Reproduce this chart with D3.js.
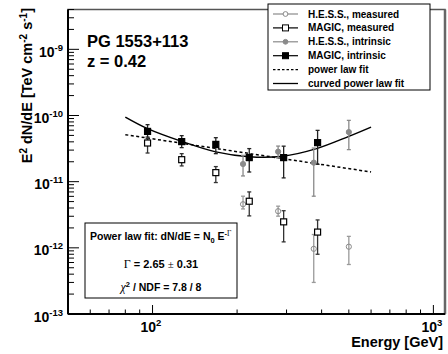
<!DOCTYPE html>
<html>
<head>
<meta charset="utf-8">
<script src="https://cdn.jsdelivr.net/npm/d3@7"></script>
<style>
body { margin: 0; background: #fff; }
text { font-family: "Liberation Sans", Arial, sans-serif; font-weight: bold; fill: #000; }
</style>
</head>
<body>
<svg id="chart"></svg>
<script>
// MAGIC points (energy in GeV, E^2 dN/dE in TeV cm^-2 s^-1)
var magicEnergy = [96, 127, 168, 221, 293, 387];
var magicIntrinsic = [5.75e-11, 4.03e-11, 3.66e-11, 2.31e-11, 2.31e-11, 3.89e-11];
var magicIntrinsicHi = [7.27e-11, 4.96e-11, 4.62e-11, 3.16e-11, 3.44e-11, 5.96e-11];
var magicIntrinsicLo = [4.72e-11, 3.27e-11, 2.65e-11, 1.40e-11, 1.14e-11, 1.83e-11];
var magicMeasured = [3.84e-11, 2.15e-11, 1.37e-11, 5.06e-12, 2.47e-12, 1.73e-12];
var magicMeasuredHi = [4.47e-11, 2.65e-11, 1.69e-11, 7.0e-12, 3.64e-12, 2.64e-12];
var magicMeasuredLo = [2.71e-11, 1.73e-11, 9.7e-12, 3.04e-12, 1.23e-12, 8.0e-13];

// H.E.S.S. points
var hessEnergy = [210, 280, 375, 500];
var hessIntrinsic = [1.85e-11, 2.84e-11, 1.94e-11, 5.62e-11];
var hessIntrinsicHi = [2.50e-11, 3.45e-11, 3.22e-11, 8.44e-11];
var hessIntrinsicLo = [1.22e-11, 2.28e-11, 6.03e-12, 3.05e-11];
var hessMeasured = [4.56e-12, 3.58e-12, 9.66e-13, 1.04e-12];
var hessMeasuredHi = [6.03e-12, 4.26e-12, 1.59e-12, 1.49e-12];
var hessMeasuredLo = [3.87e-12, 3.01e-12, 3.0e-13, 5.6e-13];

// fit curves
var curvedEnergy = [80, 96, 127, 168, 221, 290, 381, 500, 600];
var curvedFlux = [9.46e-11, 6.33e-11, 4.06e-11, 2.82e-11, 2.38e-11, 2.42e-11, 3.13e-11, 4.84e-11, 6.68e-11];
var powerEnergy = [80, 600];
var powerFlux = [5.13e-11, 1.40e-11];

var xTickValues = [100, 1000];
var xTickLabels = ["2", "3"];
var yTickValues = [1e-13, 1e-12, 1e-11, 1e-10, 1e-9];
var yTickLabels = ["-13", "-12", "-11", "-10", "-9"];

var legendLabels = ["H.E.S.S., measured", "MAGIC, measured", "H.E.S.S., intrinsic", "MAGIC, intrinsic", "power law fit", "curved power law fit"];

var hessColor = "#8a8a8a";
var magicColor = "#000";

var svg = d3.select("#chart");
svg.attr("width", 448)
    .attr("height", 354);

var x = d3.scaleLog().domain([50, 1100]).range([68, 445]);
var y = d3.scaleLog().domain([1e-13, 4e-9]).range([314, 9.5]);

function isMajor(v){
    var l = Math.log10(v);
    return Math.abs(l - Math.round(l)) < 1e-6;
}

// frame
svg.append("rect")
    .attr("x", x.range()[0])
    .attr("y", y.range()[1])
    .attr("width", x.range()[1] - x.range()[0])
    .attr("height", y.range()[0] - y.range()[1])
    .attr("fill", "none")
    .attr("stroke", "#555")
    .attr("stroke-width", 1.5);
svg.append("line")
    .attr("x1", x.range()[1]).attr("x2", x.range()[1])
    .attr("y1", y.range()[1]).attr("y2", y.range()[0])
    .attr("stroke", "#666").attr("stroke-width", 2.5);

// ticks (pointing inward, ROOT style)
var xMinor = x.ticks().filter(function(d){ return !isMajor(d); });
var yMinor = y.ticks().filter(function(d){ return !isMajor(d); });

svg.selectAll(".xtick")
    .data(xMinor.concat(xTickValues))
    .enter().append("line")
    .attr("class", "xtick")
    .attr("x1", function(d){ return x(d); })
    .attr("x2", function(d){ return x(d); })
    .attr("y1", y.range()[0])
    .attr("y2", function(d){ return y.range()[0] - (isMajor(d) ? 9 : 4.5); })
    .attr("stroke", "#000")
    .attr("stroke-width", 1);

svg.selectAll(".ytick")
    .data(yMinor.concat(yTickValues))
    .enter().append("line")
    .attr("class", "ytick")
    .attr("y1", function(d){ return y(d); })
    .attr("y2", function(d){ return y(d); })
    .attr("x1", x.range()[0])
    .attr("x2", function(d){ return x.range()[0] + (isMajor(d) ? 11 : 6); })
    .attr("stroke", "#000")
    .attr("stroke-width", 1);

// axis lines
svg.append("line")
    .attr("x1", x.range()[0]).attr("x2", x.range()[1])
    .attr("y1", y.range()[0]).attr("y2", y.range()[0])
    .attr("stroke", "#000").attr("stroke-width", 2);
svg.append("line")
    .attr("x1", x.range()[0]).attr("x2", x.range()[0])
    .attr("y1", y.range()[0]).attr("y2", y.range()[1])
    .attr("stroke", "#000").attr("stroke-width", 2);

// tick labels
xTickValues.forEach(function(v, i){
    var t = svg.append("text")
        .attr("x", x(v) - 12)
        .attr("y", 332)
        .attr("font-size", 14);
    t.append("tspan").text("10");
    t.append("tspan").attr("dy", -6).attr("font-size", 9.5).text(xTickLabels[i]);
});

yTickValues.forEach(function(v, i){
    var t = svg.append("text")
        .attr("x", 63)
        .attr("y", y(v) + 7.5)
        .attr("text-anchor", "end")
        .attr("font-size", 14);
    t.append("tspan").text("10");
    t.append("tspan").attr("dy", -6).attr("font-size", 9.5).text(yTickLabels[i]);
});

// axis titles
svg.append("text")
    .attr("x", 443)
    .attr("y", 347)
    .attr("text-anchor", "end")
    .attr("font-size", 14.5)
    .text("Energy [GeV]");

var yt = svg.append("text")
    .attr("transform", "translate(32,8) rotate(-90)")
    .attr("text-anchor", "end")
    .attr("font-size", 14.5);
yt.append("tspan").text("E");
yt.append("tspan").attr("dy", -5).attr("font-size", 10).text("2");
yt.append("tspan").attr("dy", 5).text(" dN/dE [TeV cm");
yt.append("tspan").attr("dy", -5).attr("font-size", 10).text("-2");
yt.append("tspan").attr("dy", 5).text(" s");
yt.append("tspan").attr("dy", -5).attr("font-size", 10).text("-1");
yt.append("tspan").attr("dy", 5).text("]");

// source name
svg.append("text").attr("x", 87).attr("y", 47).attr("font-size", 16.5).text("PG 1553+113");
svg.append("text").attr("x", 87).attr("y", 67).attr("font-size", 16.5).text("z = 0.42");

// fit lines
var line = d3.line()
    .x(function(d){ return x(d[0]); })
    .y(function(d){ return y(d[1]); });

svg.append("path")
    .datum(d3.zip(powerEnergy, powerFlux))
    .attr("d", line)
    .attr("fill", "none")
    .attr("stroke", "#000")
    .attr("stroke-width", 1.5)
    .attr("stroke-dasharray", "3,2.5");

svg.append("path")
    .datum(d3.zip(curvedEnergy, curvedFlux))
    .attr("d", line.curve(d3.curveCatmullRom))
    .attr("fill", "none")
    .attr("stroke", "#000")
    .attr("stroke-width", 1.5);

// error bars
function errorBars(energy, lo, hi, color){
    var g = svg.append("g").attr("stroke", color).attr("stroke-width", 1.3);
    energy.forEach(function(e, i){
        var cx = x(e);
        g.append("line").attr("x1", cx).attr("x2", cx).attr("y1", y(hi[i])).attr("y2", y(lo[i]));
        g.append("line").attr("x1", cx - 2).attr("x2", cx + 2).attr("y1", y(hi[i])).attr("y2", y(hi[i]));
        g.append("line").attr("x1", cx - 2).attr("x2", cx + 2).attr("y1", y(lo[i])).attr("y2", y(lo[i]));
    });
}

errorBars(hessEnergy, hessMeasuredLo, hessMeasuredHi, "#9a9a9a");
errorBars(hessEnergy, hessIntrinsicLo, hessIntrinsicHi, "#8a8a8a");
errorBars(magicEnergy, magicMeasuredLo, magicMeasuredHi, "#333");
errorBars(magicEnergy, magicIntrinsicLo, magicIntrinsicHi, "#222");

// markers
function circles(energy, flux, filled){
    svg.append("g").selectAll("circle")
        .data(d3.zip(energy, flux))
        .enter().append("circle")
        .attr("cx", function(d){ return x(d[0]); })
        .attr("cy", function(d){ return y(d[1]); })
        .attr("r", 2.6)
        .attr("fill", filled ? hessColor : "none")
        .attr("stroke", hessColor)
        .attr("stroke-width", 1);
}

function squares(energy, flux, filled){
    svg.append("g").selectAll("rect")
        .data(d3.zip(energy, flux))
        .enter().append("rect")
        .attr("x", function(d){ return x(d[0]) - 3; })
        .attr("y", function(d){ return y(d[1]) - 3; })
        .attr("width", 6)
        .attr("height", 6)
        .attr("fill", filled ? magicColor : "#fff")
        .attr("stroke", magicColor)
        .attr("stroke-width", 1.2);
}

circles(hessEnergy, hessMeasured, false);
circles(hessEnergy, hessIntrinsic, true);
squares(magicEnergy, magicMeasured, false);
squares(magicEnergy, magicIntrinsic, true);

// legend
var legend = svg.append("g");
legend.append("rect")
    .attr("x", 268).attr("y", 4)
    .attr("width", 162).attr("height", 86)
    .attr("fill", "#fff")
    .attr("stroke", "#000")
    .attr("stroke-width", 1);

legendLabels.forEach(function(label, i){
    var ly = 14 + i * 13.9;
    var col = (i == 0 || i == 2) ? hessColor : "#000";
    legend.append("line")
        .attr("x1", 273).attr("x2", 298)
        .attr("y1", ly).attr("y2", ly)
        .attr("stroke", col)
        .attr("stroke-width", i >= 4 ? 1.3 : 1.2)
        .attr("stroke-dasharray", i == 4 ? "2.5,2" : null);
    if (i == 0 || i == 2){
        legend.append("circle").attr("cx", 285.5).attr("cy", ly).attr("r", 2.4)
            .attr("fill", i == 2 ? hessColor : "#fff").attr("stroke", hessColor);
    }
    if (i == 1 || i == 3){
        legend.append("rect").attr("x", 282.5).attr("y", ly - 3).attr("width", 6).attr("height", 6)
            .attr("fill", i == 3 ? "#000" : "#fff").attr("stroke", "#000");
    }
    legend.append("text")
        .attr("x", 308)
        .attr("y", ly + 3.5)
        .attr("font-size", 10)
        .attr("font-weight", "normal")
        .text(label);
});

// fit result box
var box = svg.append("g");
box.append("rect")
    .attr("x", 85).attr("y", 223)
    .attr("width", 152).attr("height", 75)
    .attr("fill", "#fff")
    .attr("stroke", "#000")
    .attr("stroke-width", 1);

var t1 = box.append("text").attr("x", 90).attr("y", 240).attr("font-size", 10.5);
t1.append("tspan").text("Power law fit: dN/dE = N");
t1.append("tspan").attr("dy", 2.5).attr("font-size", 7.5).text("0");
t1.append("tspan").attr("dy", -2.5).text(" E");
t1.append("tspan").attr("dy", -4).attr("font-size", 7.5).text("-");
t1.append("tspan").attr("font-size", 7.5).attr("font-family", "Liberation Serif, serif").attr("font-weight", "normal").text("Γ");

var t2 = box.append("text").attr("x", 161).attr("y", 268).attr("text-anchor", "middle").attr("font-size", 11);
t2.append("tspan").attr("font-family", "Liberation Serif, serif").attr("font-weight", "normal").attr("font-size", 12).text("Γ");
t2.append("tspan").text(" = 2.65 ");
t2.append("tspan").attr("font-family", "Liberation Serif, serif").attr("font-weight", "normal").text("±");
t2.append("tspan").text(" 0.31");

var t3 = box.append("text").attr("x", 161).attr("y", 291).attr("text-anchor", "middle").attr("font-size", 10.5);
t3.append("tspan").attr("font-family", "Liberation Serif, serif").attr("font-weight", "normal").attr("font-style", "italic").attr("font-size", 12).text("χ");
t3.append("tspan").attr("dy", -4).attr("font-size", 7.5).text("2");
t3.append("tspan").attr("dy", 4).text(" / NDF = 7.8 / 8");
</script>
</body>
</html>
